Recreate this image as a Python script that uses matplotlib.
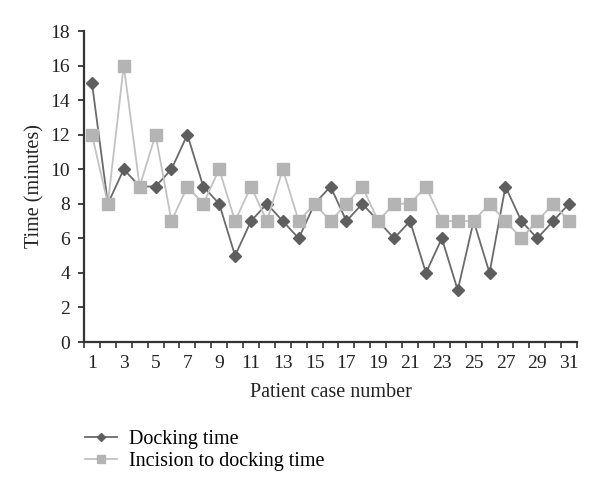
import matplotlib.pyplot as plt

cases = list(range(1, 32))
docking = [15, 8, 10, 9, 9, 10, 12, 9, 8, 5, 7, 8, 7, 6, 8, 9, 7, 8, 7, 6,
           7, 4, 6, 3, 7, 4, 9, 7, 6, 7, 8]
incision = [12, 8, 16, 9, 12, 7, 9, 8, 10, 7, 9, 7, 10, 7, 8, 7, 8, 9, 7, 8,
            8, 9, 7, 7, 7, 8, 7, 6, 7, 8, 7]

plt.rcParams['font.family'] = ['Liberation Serif', 'DejaVu Serif']
plt.rcParams['font.size'] = 13

fig = plt.figure(figsize=(6, 4.9), dpi=100)
ax = fig.add_axes([0.14, 0.302, 0.8217, 0.6347])

dock_line, = ax.plot(cases, docking, color='#6a6a6a', lw=1.3, marker='D',
                     markersize=6, markerfacecolor='#5e5e5e',
                     markeredgecolor='#5e5e5e', label='Docking time', zorder=2)
inc_line, = ax.plot(cases, incision, color='#c2c2c2', lw=1.3, marker='s',
                    markersize=8, markerfacecolor='#b4b4b4',
                    markeredgecolor='#b4b4b4',
                    label='Incision to docking time', zorder=3)

ax.set_xlim(0.5, 31.5)
ax.set_ylim(0, 18)
ax.set_yticks(range(0, 19, 2))
ax.set_xticks(range(1, 32, 2))
ax.set_xticks([i + 0.5 for i in range(0, 32)], minor=True)
ax.tick_params(axis='x', which='major', length=0, pad=9)
ax.tick_params(axis='x', which='minor', length=4, width=1.2, color='#333333', direction='out')
ax.tick_params(axis='y', length=4, width=1.2, color='#333333', pad=6)
ax.tick_params(labelsize=14, colors='#222222')

for s in ['top', 'right']:
    ax.spines[s].set_visible(False)
for s in ['left', 'bottom']:
    ax.spines[s].set_color('#333333')
    ax.spines[s].set_linewidth(1.6)

ax.set_ylabel('Time (minutes)', fontsize=14.5, color='#222222', labelpad=4)
ax.set_xlabel('Patient case number', fontsize=14.5, color='#222222', labelpad=8)

fig.legend(handles=[dock_line, inc_line], loc='upper left',
           bbox_to_anchor=(0.128, 0.14), frameon=False, fontsize=14.5,
           handlelength=1.6, handletextpad=0.6, labelspacing=0.15,
           borderaxespad=0, markerscale=0.75)

fig.savefig('out.png', dpi=100)
